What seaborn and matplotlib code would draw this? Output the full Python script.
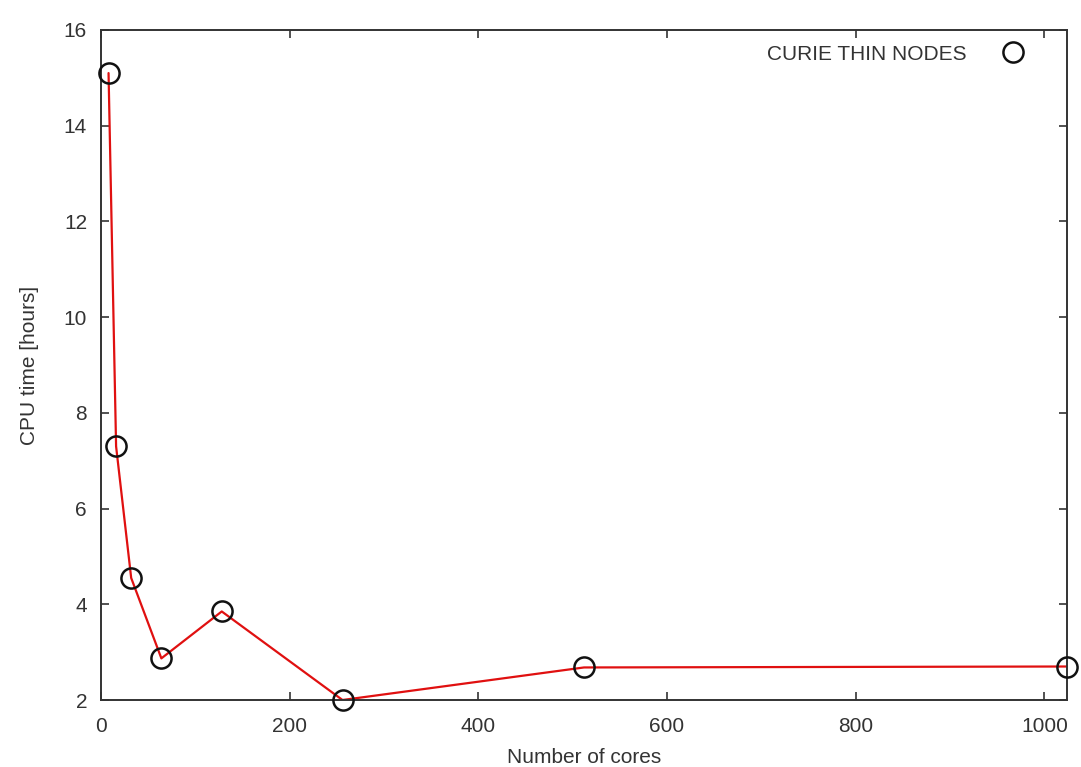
import matplotlib
matplotlib.use("Agg")
import matplotlib.pyplot as plt
from matplotlib.lines import Line2D
import seaborn as sns
import pandas as pd

cores = [8, 16, 32, 64, 128, 256, 512, 1024]
cpu_hours = [15.1, 7.3, 4.55, 2.87, 3.85, 2.0, 2.68, 2.7]
x_ticks = [0, 200, 400, 600, 800, 1000]
y_ticks = [2, 4, 6, 8, 10, 12, 14, 16]
series_label = "CURIE THIN NODES"

sns.set_theme(style="white")
plt.rcParams['font.family'] = ['Liberation Sans', 'DejaVu Sans']

df = pd.DataFrame({"cores": cores, "cpu": cpu_hours})

fig = plt.figure(figsize=(10.81, 7.67), dpi=100)
ax = fig.add_axes([101/1081, 1-700/767, (1067-101)/1081, (700-30)/767])

sns.lineplot(data=df, x="cores", y="cpu", ax=ax, color="#e01010", lw=1.6,
             zorder=2, legend=False)
sns.lineplot(data=df, x="cores", y="cpu", ax=ax, lw=0, marker="o",
             markersize=14.5, markerfacecolor="none", markeredgecolor="#111111",
             markeredgewidth=1.8, zorder=3, legend=False, clip_on=False)

ax.set_xlim(0, 1024)
ax.set_ylim(2, 16)
ax.set_xticks(x_ticks)
ax.set_yticks(y_ticks)
ax.tick_params(direction="in", top=True, right=True, bottom=True, left=True,
               length=6, width=1.2, color="#333333", labelsize=15,
               labelcolor="#333333", pad=10)
ax.tick_params(axis="x", pad=12)
for s in ax.spines.values():
    s.set_visible(True)
    s.set_color("#333333")
    s.set_linewidth(1.4)

ax.set_xlabel("Number of cores", fontsize=15, color="#333333", labelpad=9)
ax.set_ylabel("CPU time [hours]", fontsize=15, color="#333333", labelpad=18)

handle = Line2D([], [], lw=0, marker="o", markersize=14.5, markerfacecolor="none",
                markeredgecolor="#111111", markeredgewidth=1.8)
leg = ax.legend([handle], [series_label], loc="upper right", frameon=False,
                markerfirst=False, fontsize=15, handletextpad=1.25,
                borderaxespad=0.3, bbox_to_anchor=(0.981, 1.0))
for t in leg.get_texts():
    t.set_color("#333333")

fig.savefig("out.png", dpi=100, facecolor="white")
